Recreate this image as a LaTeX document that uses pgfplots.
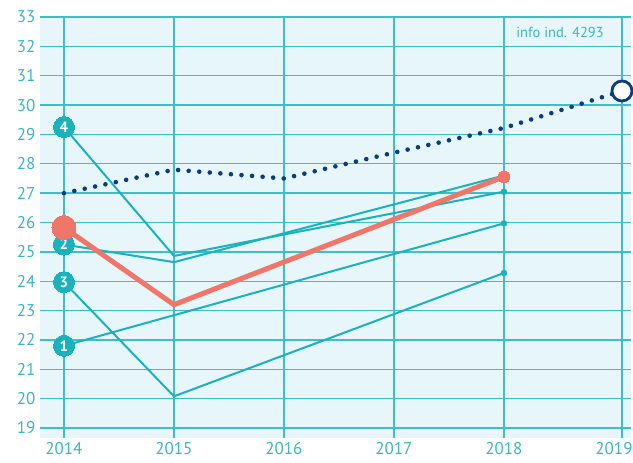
\documentclass[border=0pt]{standalone}
\usepackage{fontspec}
\setmainfont{PT Sans}
\usepackage{pgfplots}
\pgfplotsset{compat=1.18}
\definecolor{bgc}{HTML}{E6F6FA}
\definecolor{gridc}{HTML}{3DBFCA}
\definecolor{tealc}{HTML}{1CB2BC}
\definecolor{navyc}{HTML}{0A3D7E}
\definecolor{redc}{HTML}{EF7669}
\definecolor{labc}{HTML}{3BB5C5}
\begin{document}
\begin{tikzpicture}[x=1pt,y=1pt]
\path[use as bounding box] (0,0) rectangle (633,463);
\begin{axis}[
  at={(40pt,25pt)}, anchor=south west,
  scale only axis, width=591pt, height=421pt,
  xmin=2013.782, xmax=2019.155, ymin=18.66, ymax=33,
  xtick={2014,2015,2016,2017,2018}, xticklabels={2014,2015,2016,2017,2018},
  extra x ticks={2019.073}, extra x tick labels={2019},
  extra x tick style={grid=major, xticklabel style={xshift=-8pt}},
  ytick={19,...,33},
  /pgf/number format/assume math mode=true,
  tick label style={text=labc, font=\fontsize{17}{17}\selectfont},
  major tick length=0pt,
  axis line style={draw=none},
  grid=major,
  major grid style={gridc, line width=1.3pt},
  axis background/.style={fill=bgc},
  yticklabel style={xshift=-1pt},
  xticklabel style={yshift=-1pt},
  clip=false,
]
% teal lines
\addplot[tealc, line width=2pt] coordinates {(2014,29.25) (2015,24.86) (2018,27.05)};
\addplot[tealc, line width=2pt] coordinates {(2014,25.25) (2015,24.65) (2018,27.6)};
\addplot[tealc, line width=2pt] coordinates {(2014,23.97) (2015,20.08) (2018,24.28)};
\addplot[tealc, line width=2pt] coordinates {(2014,21.8) (2018,25.97)};
\addplot[tealc, only marks, mark=*, mark size=3pt, mark options={draw=tealc, fill=tealc}] coordinates {(2018,27.05) (2018,24.28) (2018,25.97)};
% navy dotted
\addplot[navyc, line width=4.6pt, line cap=round, dash pattern=on 0pt off 10.6pt] coordinates {(2014,27.0) (2015,27.8) (2016,27.5) (2017,28.38) (2018,29.22) (2019.073,30.48)};
\addplot[navyc, only marks, mark=*, mark size=10pt, mark options={draw=navyc, fill=white, line width=2.8pt}] coordinates {(2019.073,30.48)};
% numbered markers
\addplot[tealc, only marks, mark=*, mark size=10.5pt, mark options={draw=tealc, fill=tealc, line width=0pt},
  point meta=explicit symbolic, nodes near coords,
  every node near coord/.style={anchor=center, text=white, font=\bfseries\fontsize{15}{15}\selectfont}]
  coordinates {(2014,29.25) [4] (2014,25.25) [2] (2014,23.97) [3] (2014,21.8) [1]};
% red line
\addplot[redc, line width=5pt] coordinates {(2014,25.83) (2015,23.2) (2018,27.56)};
\addplot[redc, only marks, mark=*, mark size=12pt, mark options={draw=redc, fill=redc, line width=0pt}] coordinates {(2014,25.83)};
\addplot[redc, only marks, mark=*, mark size=6pt, mark options={draw=redc, fill=redc, line width=0pt}] coordinates {(2018,27.56)};
\node[text=labc, font=\fontsize{14.5}{14.5}\selectfont] at (axis cs:2018.51,32.48) {info ind. 4293};
\end{axis}
\end{tikzpicture}
\end{document}
